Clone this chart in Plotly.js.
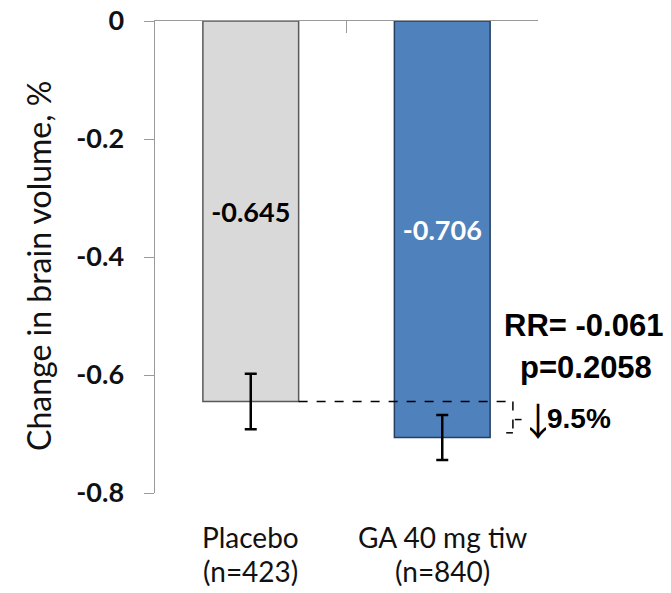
<!DOCTYPE html>
<html>
<head>
<meta charset="utf-8">
<script src="https://cdn.plot.ly/plotly-3.0.1.min.js"></script>
<style>html,body{margin:0;padding:0;background:#fff;}#chart{width:671px;height:593px;}</style>
</head>
<body>
<div id="chart"></div>
<script>
// ---- data ----
const categories = ["Placebo", "GA 40 mg tiw"];
const sampleSizes = ["(n=423)", "(n=840)"];
const changeValues = [-0.645, -0.706];
const errorValues = [0.047, 0.038];
const pValueText = "p=0.2058";
const yTickVals = [0, -0.2, -0.4, -0.6, -0.8];
const yTickText = ["0", "-0.2", "-0.4", "-0.6", "-0.8"];

const barColors = ["#d9d9d9", "#4f81bd"];
const barLineColors = ["#595959", "#243f60"];
const textColors = ["#000000", "#ffffff"];

const xIdx = categories.map((c, i) => i);
const diff = changeValues[1] - changeValues[0];
const rrText = "RR= " + diff.toFixed(3);
const pctText = (Math.abs(diff / changeValues[0]) * 100).toFixed(1) + "%";

const calibriLike = "Lato, 'Open Sans', sans-serif";
const arialLike = "'Liberation Sans', Arial, sans-serif";

const trace = {
  type: "bar",
  x: xIdx,
  y: changeValues,
  width: 0.5,
  marker: { color: barColors, line: { color: barLineColors, width: 1.5 } },
  text: changeValues.map(v => v.toFixed(3)),
  textposition: "inside",
  insidetextanchor: "middle",
  textangle: 0,
  constraintext: "none",
  insidetextfont: { family: calibriLike, size: 27, color: textColors, weight: "bold" },
  error_y: { type: "data", array: errorValues, visible: true, color: "#000", thickness: 2.5, width: 6 },
  hoverinfo: "none"
};

const bracketX = 1.369;
const layout = {
  width: 671, height: 593,
  margin: { l: 155, r: 133, t: 21, b: 100 },
  paper_bgcolor: "#fff", plot_bgcolor: "#fff",
  showlegend: false,
  xaxis: {
    range: [-0.5, 1.5],
    side: "top",
    showline: true, linecolor: "#9a9a9a", linewidth: 1.5,
    showgrid: false, zeroline: false,
    tickmode: "array", tickvals: [0.5], ticks: "inside", ticklen: 12, tickcolor: "#9a9a9a", tickwidth: 1,
    showticklabels: false, fixedrange: true
  },
  yaxis: {
    range: [-0.8, 0],
    showline: true, linecolor: "#9a9a9a", linewidth: 1.5,
    showgrid: false, zeroline: false,
    tickmode: "array", tickvals: yTickVals, ticktext: yTickText,
    ticks: "outside", ticklen: 10, tickcolor: "#9a9a9a", tickwidth: 1,
    ticklabelstandoff: 14,
    tickfont: { family: calibriLike, size: 27, color: "#111", weight: "bold" },
    fixedrange: true
  },
  shapes: [
    { type: "line", xref: "x", yref: "y", x0: xIdx[0] + 0.25, x1: bracketX, y0: changeValues[0], y1: changeValues[0],
      line: { color: "#000", width: 1.5, dash: "dash" } },
    { type: "line", xref: "x", yref: "y", x0: bracketX, x1: bracketX, y0: changeValues[0], y1: changeValues[1] + 0.008,
      line: { color: "#000", width: 1.5, dash: "dash" } },
    { type: "line", xref: "x", yref: "y", x0: bracketX - 0.035, x1: bracketX, y0: changeValues[1] + 0.008, y1: changeValues[1] + 0.008,
      line: { color: "#000", width: 1.5 } },
    { type: "line", xref: "x", yref: "y", x0: bracketX + 0.01, x1: bracketX + 0.045, y0: (changeValues[0] + changeValues[1]) / 2, y1: (changeValues[0] + changeValues[1]) / 2,
      line: { color: "#000", width: 1.5 } }
  ],
  annotations: [
    ...categories.map((c, i) => ({
      x: xIdx[i], xref: "x", xanchor: "center", y: -0.093, yref: "paper", yanchor: "middle",
      text: c, showarrow: false, font: { family: calibriLike, size: 28, color: "#111" }
    })),
    ...sampleSizes.map((c, i) => ({
      x: xIdx[i], xref: "x", xanchor: "center", y: -0.165, yref: "paper", yanchor: "middle",
      text: c, showarrow: false, font: { family: calibriLike, size: 28, color: "#111" }
    })),
    { x: -0.303, xref: "paper", xanchor: "center", y: 0.481, yref: "paper", yanchor: "middle",
      text: "Change in brain volume, %", textangle: -90,
      showarrow: false, font: { family: calibriLike, size: 32, color: "#111" } },
    { x: 1.1188, xref: "paper", xanchor: "center", y: 0.354, yref: "paper", yanchor: "middle", text: rrText, showarrow: false,
      font: { family: arialLike, size: 31, color: "#000", weight: "bold" } },
    { x: 1.125, xref: "paper", xanchor: "center", y: 0.266, yref: "paper", yanchor: "middle", text: pValueText, showarrow: false,
      font: { family: arialLike, size: 31, color: "#000", weight: "bold" } },
    { x: 1.0013, xref: "paper", xanchor: "center", y: 0.157, yref: "paper", yanchor: "middle", text: "\u2193", showarrow: false,
      width: 16, font: { family: "'Noto Sans CJK JP', sans-serif", size: 38, color: "#000" } },
    { x: 1.019, xref: "paper", xanchor: "left", y: 0.158, yref: "paper", yanchor: "middle", text: pctText, showarrow: false,
      font: { family: arialLike, size: 28, color: "#000", weight: "bold" } }
  ]
};

Plotly.newPlot("chart", [trace], layout, { displayModeBar: false, staticPlot: true });
</script>
</body>
</html>
